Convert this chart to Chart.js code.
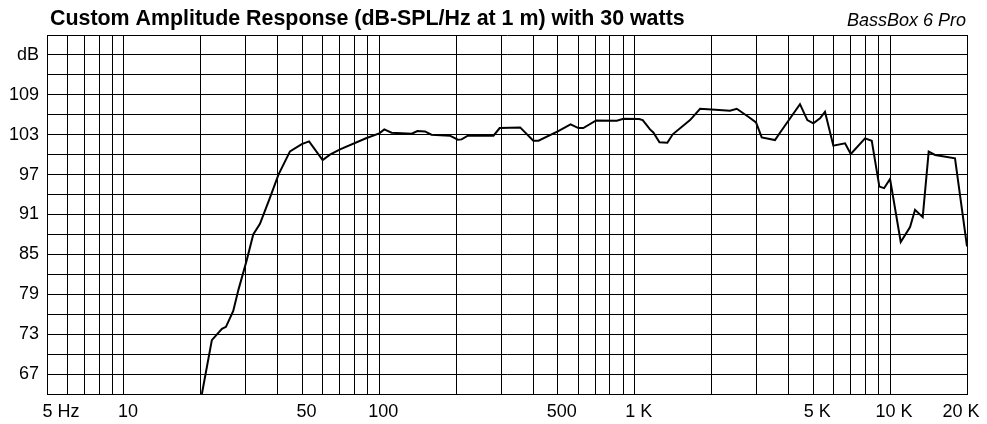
<!DOCTYPE html>
<html>
<head>
<meta charset="utf-8">
<script src="https://cdn.jsdelivr.net/npm/chart.js@4"></script>
<style>
  html, body { margin: 0; padding: 0; background: #fff; }
  #wrap { width: 987px; height: 424px; position: relative; }
</style>
</head>
<body>
<div id="wrap"><canvas id="ampChart"></canvas></div>
<script>
// Response data (Hz, dB-SPL)
const freqs = [20.2, 22.1, 24.2, 25.1, 26.8, 28.1, 30.3, 32.1, 34.1, 37.3, 40.3, 44.7, 49.7, 53.1, 60.0, 64.1, 70.2, 89.2, 100, 104.6, 111.7, 134, 141, 151, 160, 189, 203, 210, 223, 280, 296, 356, 401, 420, 502, 561, 602, 629, 706, 851, 903, 1040, 1075, 1148, 1183, 1250, 1342, 1409, 1647, 1803, 2002, 2360, 2509, 2785, 2985, 3143, 3543, 3705, 4437, 4742, 5004, 5315, 5559, 5994, 6661, 7014, 7979, 8473, 9076, 9472, 9994, 11004, 11970, 12520, 13417, 14160, 14995, 17950, 20000];
const levels = [64, 72.1, 73.8, 74.1, 76.5, 79.7, 84.2, 88.0, 89.6, 93.5, 97.0, 100.5, 101.6, 102.0, 99.2, 100.0, 100.8, 102.5, 103.2, 103.8, 103.3, 103.15, 103.55, 103.5, 103.0, 102.85, 102.25, 102.3, 102.9, 102.85, 104.0, 104.1, 102.1, 102.1, 103.55, 104.55, 104.0, 104.0, 105.15, 105.1, 105.4, 105.35, 105.2, 103.8, 103.35, 101.85, 101.8, 103.06, 105.2, 106.9, 106.8, 106.6, 106.9, 105.7, 104.86, 102.6, 102.2, 103.3, 107.6, 105.2, 104.7, 105.46, 106.45, 101.35, 101.7, 100.1, 102.45, 102.1, 95.2, 94.96, 96.35, 86.86, 89.1, 91.7, 90.6, 100.45, 99.96, 99.46, 86.2];

// grid lines on the frequency axis and the ones that get a label
const freqGrid = [5, 6, 7, 8, 9, 10, 20, 30, 40, 50, 60, 70, 80, 90, 100, 200, 300, 400, 500, 600, 700, 800, 900, 1000, 2000, 3000, 4000, 5000, 6000, 7000, 8000, 9000, 10000, 20000];
const freqLabels = { 5: "5 Hz", 10: "10", 50: "50", 100: "100", 500: "500", 1000: "1 K", 5000: "5 K", 10000: "10 K", 20000: "20 K" };

// dB grid every 3, labels every 6
const dbGrid = [64, 67, 70, 73, 76, 79, 82, 85, 88, 91, 94, 97, 100, 103, 106, 109, 112, 115, 118];
const dbLabels = { 67: "67", 73: "73", 79: "79", 85: "85", 91: "91", 97: "97", 103: "103", 109: "109", 115: "dB" };

const chartTitle = "Custom Amplitude Response (dB-SPL/Hz at 1 m) with 30 watts";
const chartBrand = "BassBox 6 Pro";

const points = freqs.map((f, i) => ({ x: f, y: levels[i] }));

const headerText = {
  id: "headerText",
  afterDraw(chart) {
    const ctx = chart.ctx;
    const area = chart.chartArea;
    ctx.save();
    ctx.fillStyle = "#000";
    ctx.textBaseline = "alphabetic";
    ctx.font = "bold 21.4px 'Liberation Sans', Arial, sans-serif";
    ctx.textAlign = "left";
    ctx.fillText(chartTitle, area.left + 3, 25);
    ctx.font = "italic 18px 'Liberation Sans', Arial, sans-serif";
    ctx.textAlign = "right";
    ctx.fillText(chartBrand, area.right - 1, 26);
    ctx.restore();
  }
};

const tickFont = { family: "'Liberation Sans', Arial, sans-serif", size: 18 };

// first and last frequency labels are pushed inside the frame a bit
const freqTick = (v, i, ticks) => {
  const label = freqLabels[v] || "";
  if (i === 0) return "    " + label;
  if (i === ticks.length - 1) return label + "    ";
  return label;
};

const ctx = document.getElementById("ampChart").getContext("2d");
new Chart(ctx, {
  type: "line",
  data: {
    datasets: [
      {
        data: points,
        borderColor: "#000",
        borderWidth: 2,
        pointRadius: 0,
        tension: 0,
        fill: false,
      },
    ],
  },
  options: {
    responsive: true,
    maintainAspectRatio: false,
    animation: false,
    layout: { padding: { top: 35, right: 20, left: 0, bottom: 0 } },
    plugins: { legend: { display: false }, tooltip: { enabled: false } },
    scales: {
      x: {
        type: "logarithmic",
        min: 5,
        max: 20000,
        afterBuildTicks: (s) => { s.ticks = freqGrid.map((v) => ({ value: v })); },
        afterFit: (s) => { s.height = 30; s.paddingLeft = 0; s.paddingRight = 0; },
        grid: { color: "#000", lineWidth: 1, drawTicks: false },
        border: { color: "#000", width: 1 },
        ticks: {
          autoSkip: false,
          maxRotation: 0,
          padding: 7,
          labelOffset: 4,
          color: "#000",
          font: tickFont,
          callback: freqTick,
        },
      },
      y: {
        type: "linear",
        min: 64,
        max: 118,
        afterBuildTicks: (s) => { s.ticks = dbGrid.map((v) => ({ value: v })); },
        afterFit: (s) => { s.width = 47; s.paddingTop = 0; s.paddingBottom = 0; },
        grid: { color: "#000", lineWidth: 1, drawTicks: false },
        border: { color: "#000", width: 1 },
        ticks: {
          autoSkip: false,
          padding: 8,
          color: "#000",
          font: tickFont,
          callback: (v) => dbLabels[v] || "",
        },
      },
    },
  },
  plugins: [headerText],
});
</script>
</body>
</html>
